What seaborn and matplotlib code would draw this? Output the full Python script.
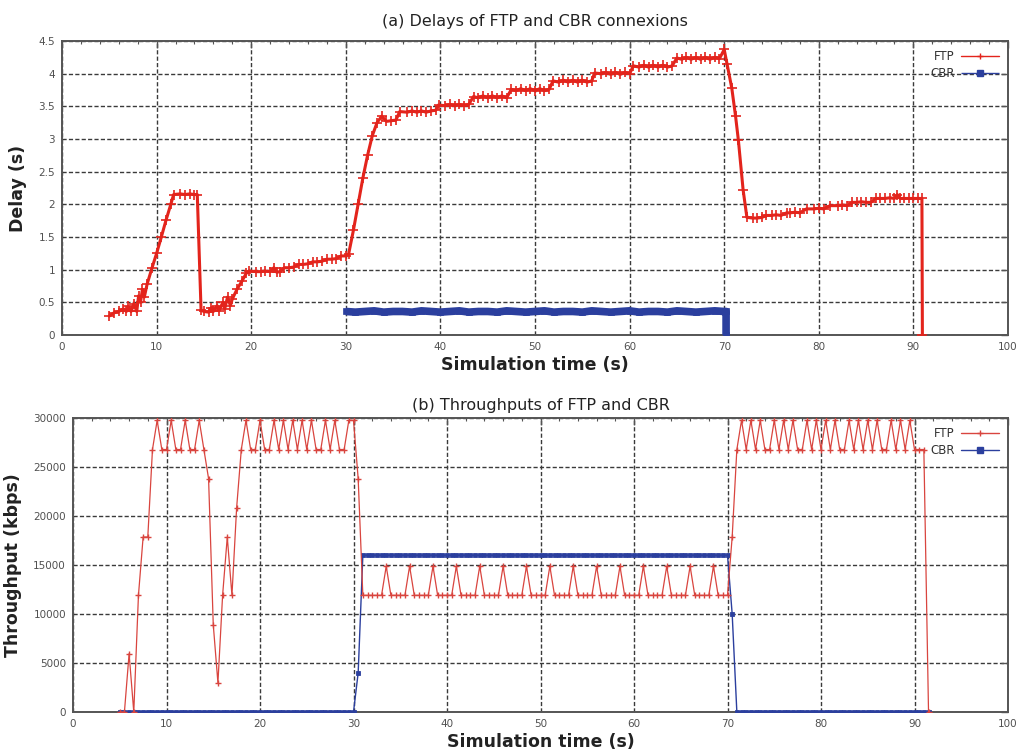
import numpy as np
import pandas as pd
import matplotlib
matplotlib.use("Agg")
import matplotlib.pyplot as plt
import seaborn as sns
from matplotlib.ticker import MultipleLocator, FuncFormatter

sns.set_style("white")
plt.rcParams["font.family"] = ["DejaVu Sans"]

# ---------------- (a) end-to-end delays (s) ----------------
ftp_delay_t = [
    5.0, 5.5, 6.0, 6.5, 6.8, 7.0, 7.3, 7.6, 7.9, 8.1, 8.3, 8.5, 8.7,
    9.0, 9.5, 10.0, 10.5, 11.0, 11.5, 11.8, 12.5, 13.0, 13.5, 14.0, 14.3,
    14.7, 15.0, 15.5, 15.8, 16.0, 16.4, 16.6, 17.0, 17.2, 17.5, 17.8,
    18.0, 18.5, 19.0, 19.5, 19.8, 20.5, 21.0, 21.5, 22.0, 22.4, 22.7,
    23.0, 23.5, 24.0, 24.5, 25.0, 25.5, 26.0, 26.5, 27.0, 27.5, 28.0,
    28.5, 29.0, 29.5, 30.0, 30.3, 30.8, 31.3, 31.8, 32.3, 32.8, 33.3,
    33.8, 34.3, 34.8, 35.3, 35.7, 36.5, 37.0, 37.5, 38.0, 38.5, 39.0,
    39.5, 39.8, 40.5, 41.0, 41.5, 42.0, 42.5, 43.0, 43.5, 44.0, 44.5,
    45.0, 45.5, 46.0, 46.5, 47.0, 47.5, 48.0, 48.5, 49.0, 49.5, 50.0,
    50.5, 51.0, 51.5, 51.9, 52.5, 53.0, 53.5, 54.0, 54.5, 55.0, 55.5,
    56.0, 56.3, 57.0, 57.5, 58.0, 58.5, 59.0, 59.5, 60.0, 60.4, 61.0,
    61.5, 62.0, 62.5, 63.0, 63.5, 64.0, 64.5, 65.0, 65.5, 66.0, 66.5,
    67.0, 67.5, 68.0, 68.5, 69.0, 69.5, 70.0, 70.3, 70.8, 71.2, 71.5,
    72.0, 72.4, 73.0, 73.5, 74.0, 74.4, 75.0, 75.5, 76.0, 76.6, 77.0,
    77.5, 78.0, 78.7, 79.5, 80.0, 80.5, 81.2, 82.0, 82.5, 83.0, 83.5,
    84.0, 84.5, 85.0, 85.5, 86.0, 86.5, 87.0, 87.5, 88.0, 88.3, 88.6,
    89.0, 89.5, 90.0, 90.5, 90.9, 90.95,
]
ftp_delay = [
    0.29, 0.34, 0.36, 0.40, 0.36, 0.44, 0.36, 0.48, 0.36, 0.60, 0.50, 0.70, 0.58,
    0.78, 1.02, 1.25, 1.50, 1.76, 2.00, 2.15, 2.16, 2.15, 2.16, 2.15, 2.15,
    0.38, 0.36, 0.35, 0.42, 0.36, 0.45, 0.37, 0.50, 0.40, 0.58, 0.45,
    0.55, 0.70, 0.82, 0.95, 0.98, 0.97, 0.97, 0.98, 0.97, 1.03, 0.96,
    0.97, 1.03, 1.03, 1.04, 1.08, 1.08, 1.09, 1.12, 1.12, 1.13, 1.16,
    1.16, 1.17, 1.21, 1.21, 1.24, 1.60, 2.00, 2.40, 2.75, 3.05, 3.25,
    3.35, 3.27, 3.28, 3.29, 3.42, 3.41, 3.43, 3.41, 3.43, 3.41, 3.43,
    3.44, 3.52, 3.51, 3.53, 3.51, 3.53, 3.51, 3.53, 3.65, 3.63, 3.66,
    3.63, 3.66, 3.63, 3.66, 3.63, 3.76, 3.74, 3.77, 3.74, 3.77, 3.74,
    3.77, 3.74, 3.76, 3.89, 3.87, 3.90, 3.87, 3.90, 3.87, 3.90, 3.87,
    3.89, 4.01, 4.00, 4.02, 3.99, 4.02, 3.99, 4.02, 4.00, 4.12, 4.10,
    4.13, 4.10, 4.13, 4.10, 4.13, 4.10, 4.12, 4.24, 4.22, 4.25, 4.22,
    4.25, 4.22, 4.25, 4.22, 4.25, 4.23, 4.37, 4.15, 3.78, 3.35, 2.98,
    2.22, 1.80, 1.79, 1.79, 1.80, 1.83, 1.83, 1.84, 1.83, 1.87, 1.87,
    1.88, 1.87, 1.93, 1.93, 1.94, 1.93, 1.98, 1.98, 1.99, 1.98, 2.03,
    2.03, 2.04, 2.03, 2.03, 2.09, 2.09, 2.09, 2.10, 2.09, 2.15, 2.09,
    2.09, 2.09, 2.09, 2.09, 2.09, 0.0,
]

cbr_delay_t = [
    30, 31, 32, 33, 34, 35, 36, 37, 38, 39, 40, 41, 42, 43, 44, 45, 46,
    47, 48, 49, 50, 51, 52, 53, 54, 55, 56, 57, 58, 59, 60, 61, 62, 63,
    64, 65, 66, 67, 68, 69, 70, 70.2, 70.2,
]
cbr_delay = [
    0.36, 0.35, 0.36, 0.37, 0.35, 0.36, 0.36, 0.35, 0.37, 0.36, 0.35,
    0.36, 0.37, 0.35, 0.36, 0.36, 0.35, 0.37, 0.36, 0.35, 0.36, 0.37,
    0.35, 0.36, 0.36, 0.35, 0.37, 0.36, 0.35, 0.36, 0.37, 0.35, 0.36,
    0.36, 0.35, 0.37, 0.36, 0.35, 0.36, 0.37, 0.36, 0.36, 0.0,
]

# ---------------- (b) throughputs (kbps), one sample every 0.5 s from 5 s ----------------
tput_t = np.arange(5.0, 91.51, 0.5)

ftp_tput = [
    0, 0, 5952, 0, 11904, 17856, 17856, 26784, 29760, 26784,
    26784, 29760, 26784, 26784, 29760, 26784, 26784, 29760, 26784, 23808,
    8928, 2976, 11904, 17856, 11904, 20832, 26784, 29760, 26784, 26784,
    29760, 26784, 26784, 29760, 26784, 29760, 26784, 29760, 26784, 29760,
    26784, 29760, 26784, 26784, 29760, 26784, 29760, 26784, 26784, 29760,
    29760, 23808, 11904, 11904, 11904, 11904, 11904, 14880, 11904, 11904,
    11904, 11904, 14880, 11904, 11904, 11904, 11904, 14880, 11904, 11904,
    11904, 11904, 14880, 11904, 11904, 11904, 11904, 14880, 11904, 11904,
    11904, 11904, 14880, 11904, 11904, 11904, 11904, 14880, 11904, 11904,
    11904, 11904, 14880, 11904, 11904, 11904, 11904, 14880, 11904, 11904,
    11904, 11904, 14880, 11904, 11904, 11904, 11904, 14880, 11904, 11904,
    11904, 11904, 14880, 11904, 11904, 11904, 11904, 14880, 11904, 11904,
    11904, 11904, 14880, 11904, 11904, 11904, 11904, 14880, 11904, 11904,
    11904, 17856, 26784, 29760, 26784, 29760, 26784, 29760, 26784, 26784,
    29760, 26784, 29760, 26784, 29760, 26784, 26784, 29760, 26784, 29760,
    26784, 29760, 26784, 29760, 26784, 26784, 29760, 26784, 29760, 26784,
    29760, 26784, 29760, 26784, 26784, 29760, 26784, 29760, 26784, 29760,
    26784, 26784, 26784, 0,
]

cbr_tput = [
    0, 0, 0, 0, 0, 0, 0, 0, 0, 0,
    0, 0, 0, 0, 0, 0, 0, 0, 0, 0,
    0, 0, 0, 0, 0, 0, 0, 0, 0, 0,
    0, 0, 0, 0, 0, 0, 0, 0, 0, 0,
    0, 0, 0, 0, 0, 0, 0, 0, 0, 0,
    0, 4000, 16000, 16000, 16000, 16000, 16000, 16000, 16000, 16000,
    16000, 16000, 16000, 16000, 16000, 16000, 16000, 16000, 16000, 16000,
    16000, 16000, 16000, 16000, 16000, 16000, 16000, 16000, 16000, 16000,
    16000, 16000, 16000, 16000, 16000, 16000, 16000, 16000, 16000, 16000,
    16000, 16000, 16000, 16000, 16000, 16000, 16000, 16000, 16000, 16000,
    16000, 16000, 16000, 16000, 16000, 16000, 16000, 16000, 16000, 16000,
    16000, 16000, 16000, 16000, 16000, 16000, 16000, 16000, 16000, 16000,
    16000, 16000, 16000, 16000, 16000, 16000, 16000, 16000, 16000, 16000,
    16000, 10000, 0, 0, 0, 0, 0, 0, 0, 0,
    0, 0, 0, 0, 0, 0, 0, 0, 0, 0,
    0, 0, 0, 0, 0, 0, 0, 0, 0, 0,
    0, 0, 0, 0, 0, 0, 0, 0, 0, 0,
    0, 0, 0, 0,
]

RED = "#e3241c"
RED_LIGHT = "#d9453f"
BLUE = "#2b3f9e"
GRID = "#3a3a3a"
FRAME = "#555555"
TICKLBL = "#505050"

W, H = 1025, 752
fig = plt.figure(figsize=(W / 100, H / 100), dpi=100)
ax1 = fig.add_axes([62 / W, 1 - 335 / H, (1008 - 62) / W, (335 - 41) / H])
ax2 = fig.add_axes([73 / W, 1 - 712 / H, (1008 - 73) / W, (712 - 418) / H])

# (a) delays
sns.lineplot(x=ftp_delay_t, y=ftp_delay, ax=ax1, color=RED, linewidth=2.2,
             marker="+", markersize=6.5, markeredgewidth=1.2, mec=RED,
             estimator=None, sort=False, label="FTP", zorder=4)
sns.lineplot(x=cbr_delay_t, y=cbr_delay, ax=ax1, color=BLUE, linewidth=5.5,
             marker="s", markersize=4, markeredgewidth=0.5, mec=BLUE,
             solid_capstyle="butt", estimator=None, sort=False,
             label="CBR", zorder=3)

# (b) throughputs
sns.lineplot(x=tput_t, y=ftp_tput, ax=ax2, color=RED_LIGHT, linewidth=0.9,
             marker="+", markersize=5, markeredgewidth=1.0, mec=RED_LIGHT,
             estimator=None, sort=False, label="FTP", zorder=4)
sns.lineplot(x=tput_t, y=cbr_tput, ax=ax2, color=BLUE, linewidth=1.0,
             marker="s", markersize=3.2, markeredgewidth=0.6, mec=BLUE,
             estimator=None, sort=False, label="CBR", zorder=3)


def style_axes(ax, ymax, ystep, fmt):
    ax.set_xlim(0, 100)
    ax.set_ylim(0, ymax)
    ax.xaxis.set_major_locator(MultipleLocator(10))
    ax.xaxis.set_minor_locator(MultipleLocator(2))
    ax.yaxis.set_major_locator(MultipleLocator(ystep))
    ax.yaxis.set_major_formatter(FuncFormatter(fmt))
    ax.grid(True, which="major", color=GRID, linewidth=1.0,
            linestyle=(0, (3, 1.6)), zorder=0)
    ax.set_axisbelow(True)
    for sp in ax.spines.values():
        sp.set_color(FRAME)
        sp.set_linewidth(1.4)
    ax.tick_params(which="both", direction="in", top=True, right=True,
                   colors=FRAME, labelcolor=TICKLBL, labelsize=7.5)
    ax.tick_params(which="major", length=5, width=1.0, pad=5)
    ax.tick_params(which="minor", length=2.5, width=0.8)
    leg = ax.legend(loc="upper right", frameon=False, markerfirst=False,
                    fontsize=8.5, handlelength=3.2, borderaxespad=0.4,
                    labelspacing=0.3, handletextpad=0.5)
    for txt in leg.get_texts():
        txt.set_color("#333333")
    # thin legend samples: a line with one small marker
    for ln in leg.get_lines():
        ln.set_linewidth(1.0)
        ln.set_markersize(4)
        ln.set_markeredgewidth(1.0)


style_axes(ax1, 4.5, 0.5, lambda v, p: f"{v:g}")
style_axes(ax2, 30000, 5000, lambda v, p: f"{int(round(v))}")

ax1.set_title("(a) Delays of FTP and CBR connexions", fontsize=11.5,
              color="#222222", pad=11)
ax2.set_title("(b) Throughputs of FTP and CBR", fontsize=11.5,
              color="#222222", pad=6)
for ax, ylab in ((ax1, "Delay (s)"), (ax2, "Throughput (kbps)")):
    ax.set_xlabel("Simulation time (s)", fontsize=12.5, fontweight="bold",
                  color="#222222", labelpad=3)
    ax.set_ylabel(ylab, fontsize=12.5, fontweight="bold", color="#222222",
                  labelpad=8)

fig.savefig("out.png", dpi=100, facecolor="white")
